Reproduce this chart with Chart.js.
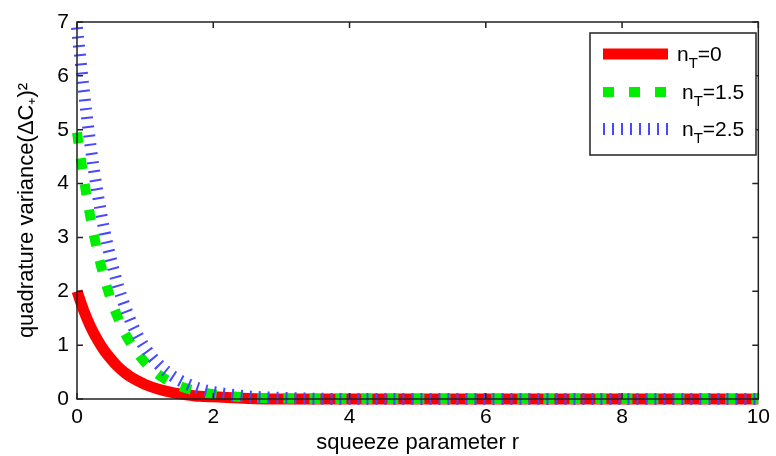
<!DOCTYPE html>
<html>
<head>
  <title>quadrature variance</title>
  <script src="https://cdn.jsdelivr.net/npm/chart.js"></script>
  <style>
    body{
      margin: 0;
      background: #fff;
    }
    #wrap {
      width: 776px;
      height: 456px;
    }
  </style>
</head>
<body>
  <div id="wrap"><canvas id="chart" width="776" height="456"></canvas></div>

  <script>
    // squeeze parameter r (x positions)
    var rValues = [0, 0.1, 0.2, 0.3, 0.4, 0.5, 0.6, 0.7, 0.8, 0.9, 1.0, 1.2, 1.4, 1.6, 1.8, 2.0, 2.5, 3, 4, 5, 6, 7, 8, 9, 10];
    // quadrature variance for each thermal number
    var nT0  = [2.00, 1.64, 1.34, 1.10, 0.90, 0.74, 0.60, 0.49, 0.40, 0.33, 0.27, 0.18, 0.12, 0.08, 0.05, 0.04, 0.01, 0, 0, 0, 0, 0, 0, 0, 0];
    var nT15 = [4.95, 4.09, 3.35, 2.74, 2.25, 1.84, 1.51, 1.23, 1.01, 0.83, 0.68, 0.45, 0.30, 0.20, 0.14, 0.09, 0.03, 0.01, 0, 0, 0, 0, 0, 0, 0];
    var nT25 = [6.90, 5.73, 4.69, 3.84, 3.14, 2.58, 2.11, 1.73, 1.41, 1.16, 0.95, 0.64, 0.43, 0.29, 0.19, 0.13, 0.05, 0.02, 0, 0, 0, 0, 0, 0, 0];
    var seriesNames = ["0", "1.5", "2.5"];
    var xTicks = [0, 2, 4, 6, 8, 10];
    var yTicks = [0, 1, 2, 3, 4, 5, 6, 7];

    var FONT = "'Liberation Sans', Arial, sans-serif";

    function pts(ys) {
      return rValues.map(function (r, i) { return { x: r, y: ys[i] }; });
    }

    var data = {
      datasets: [{
        label: seriesNames[0],
        data: pts(nT0),
        borderColor: "#ff0000",
        borderWidth: 11,
        order: 3
      }, {
        label: seriesNames[1],
        data: pts(nT15),
        borderColor: "#00ee00",
        borderWidth: 10,
        borderDash: [11, 15],
        order: 2
      }, {
        label: seriesNames[2],
        data: pts(nT25),
        borderColor: "#4848ff",
        borderWidth: 12,
        borderDash: [2, 7],
        order: 1
      }]
    };

    // box round the axes with inward ticks on all four sides
    var boxPlugin = {
      id: "box",
      afterDatasetsDraw: function (chart) {
        var ctx = chart.ctx, a = chart.chartArea;
        var xs = chart.scales.x, ys = chart.scales.y;
        ctx.save();
        ctx.strokeStyle = "#222";
        ctx.lineWidth = 1.5;
        ctx.strokeRect(a.left, a.top, a.right - a.left, a.bottom - a.top);
        ctx.beginPath();
        xTicks.forEach(function (v) {
          var px = xs.getPixelForValue(v);
          ctx.moveTo(px, a.bottom); ctx.lineTo(px, a.bottom - 6);
          ctx.moveTo(px, a.top); ctx.lineTo(px, a.top + 6);
        });
        yTicks.forEach(function (v) {
          var py = ys.getPixelForValue(v);
          ctx.moveTo(a.left, py); ctx.lineTo(a.left + 6, py);
          ctx.moveTo(a.right, py); ctx.lineTo(a.right - 6, py);
        });
        ctx.stroke();
        ctx.restore();
      }
    };

    // legend with subscript T
    var legendPlugin = {
      id: "subLegend",
      afterDraw: function (chart) {
        var ctx = chart.ctx;
        var bx = 590, by = 33, bw = 166, bh = 122;
        var rows = [54, 92, 129];
        ctx.save();
        ctx.fillStyle = "#fff";
        ctx.fillRect(bx, by, bw, bh);
        ctx.strokeStyle = "#222";
        ctx.lineWidth = 1.5;
        ctx.strokeRect(bx, by, bw, bh);
        chart.data.datasets.forEach(function (ds, i) {
          var y = rows[i];
          ctx.save();
          ctx.strokeStyle = ds.borderColor;
          ctx.lineWidth = ds.borderWidth;
          ctx.lineCap = "butt";
          ctx.setLineDash(ds.borderDash || []);
          ctx.beginPath();
          ctx.moveTo(603, y);
          ctx.lineTo(668, y);
          ctx.stroke();
          ctx.restore();
          ctx.fillStyle = "#000";
          ctx.textBaseline = "alphabetic";
          ctx.font = "21px " + FONT;
          var x = 677 + (i > 0 ? 5 : 0);
          ctx.fillText("n", x, y + 7);
          x += ctx.measureText("n").width;
          ctx.font = "15px " + FONT;
          ctx.fillText("T", x, y + 14);
          x += ctx.measureText("T").width;
          ctx.font = "21px " + FONT;
          ctx.fillText("=" + ds.label, x, y + 7);
        });
        ctx.restore();
      }
    };

    var ctx = document.getElementById("chart").getContext("2d");
    var chart = new Chart(ctx, {
      type: "line",
      data: data,
      plugins: [boxPlugin, legendPlugin],
      options: {
        responsive: false,
        animation: false,
        clip: false,
        layout: { padding: { top: 22, right: 12, left: 0, bottom: 0 } },
        elements: {
          point: { radius: 0 },
          line: { cubicInterpolationMode: "monotone", fill: false, borderCapStyle: "butt" }
        },
        plugins: {
          legend: { display: false },
          tooltip: { enabled: false }
        },
        scales: {
          x: {
            type: "linear",
            min: 0,
            max: 10,
            afterBuildTicks: function (s) { s.ticks = xTicks.map(function (v) { return { value: v }; }); },
            afterFit: function (s) { s.height = 57; },
            ticks: { color: "#000", font: { family: FONT, size: 21 }, padding: 6 },
            grid: { display: false, drawTicks: false },
            border: { display: false },
            title: {
              display: true,
              text: "squeeze parameter r",
              color: "#000",
              font: { family: FONT, size: 22 },
              padding: { top: 0, bottom: 0 }
            }
          },
          y: {
            min: 0,
            max: 7,
            afterBuildTicks: function (s) { s.ticks = yTicks.map(function (v) { return { value: v }; }); },
            afterFit: function (s) { s.width = 77; },
            ticks: { color: "#000", font: { family: FONT, size: 21 }, padding: 8 },
            grid: { display: false, drawTicks: false },
            border: { display: false },
            title: {
              display: true,
              text: "quadrature variance(ΔC₊)²",
              color: "#000",
              font: { family: FONT, size: 22 },
              padding: { top: 14, bottom: 0 }
            }
          }
        }
      }
    });
  </script>
</body>
</html>
